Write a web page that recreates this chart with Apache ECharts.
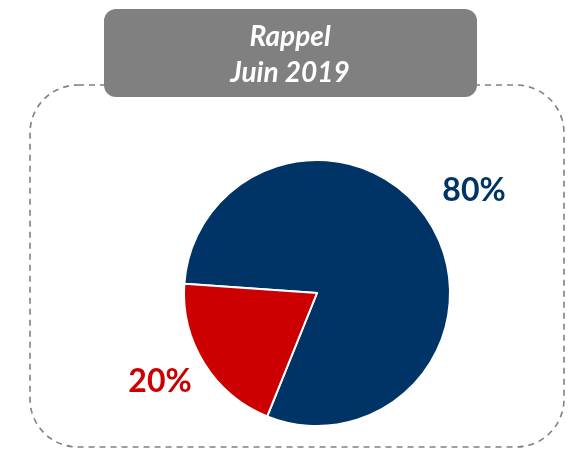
<!DOCTYPE html>
<html>
<head>
<meta charset="utf-8">
<script src="https://cdn.jsdelivr.net/npm/echarts@6/dist/echarts.min.js"></script>
<style>
  html, body { margin: 0; padding: 0; background: #fff; }
  #chart { width: 573px; height: 450px; }
</style>
</head>
<body>
<div id="chart"></div>
<script>
// data
const categories = ['Oui', 'Non'];
const values = [80, 20];
const colors = ['#003366', '#CC0000'];
const titleLines = ['Rappel', 'Juin 2019'];

// label anchors (px)
const labelPos = [[474, 191], [160, 382]];

const chart = echarts.init(document.getElementById('chart'));

const option = {
  animation: false,
  graphic: [
    {
      type: 'rect',
      shape: { x: 30, y: 85, width: 534, height: 362, r: 48 },
      style: { fill: 'none', stroke: '#808080', lineWidth: 1.6, lineDash: [6, 5] },
      z: 0
    },
    {
      type: 'rect',
      shape: { x: 104, y: 9, width: 373, height: 88, r: 12 },
      style: { fill: '#808080' },
      z: 1
    },
    {
      type: 'text',
      x: 290, y: 55,
      style: {
        text: titleLines.join('\n'),
        fill: '#fff',
        font: 'italic bold 28px Lato',
        lineHeight: 36,
        align: 'center',
        verticalAlign: 'middle'
      },
      z: 2
    }
  ],
  series: [
    {
      type: 'pie',
      center: [317, 293],
      radius: 133,
      startAngle: 176,
      clockwise: true,
      itemStyle: { borderColor: '#fff', borderWidth: 2 },
      labelLine: { show: false },
      label: {
        show: true,
        position: 'outside',
        formatter: '{d}%',
        fontFamily: 'Lato',
        fontWeight: 'bold',
        fontSize: 32
      },
      labelLayout: params => ({
        x: labelPos[params.dataIndex][0],
        y: labelPos[params.dataIndex][1],
        align: 'center',
        verticalAlign: 'middle'
      }),
      data: categories.map((name, i) => ({
        name,
        value: values[i],
        itemStyle: { color: colors[i] },
        label: { color: colors[i] }
      }))
    }
  ]
};

chart.setOption(option);
</script>
</body>
</html>
